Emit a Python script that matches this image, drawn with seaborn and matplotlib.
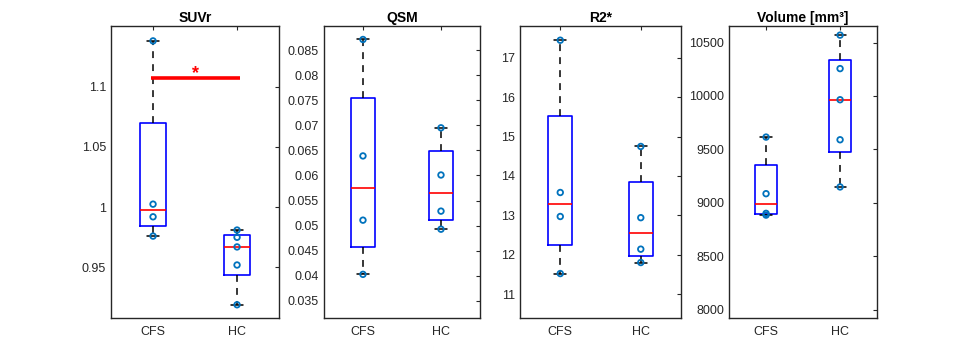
import numpy as np
import pandas as pd
import matplotlib
matplotlib.use("Agg")
import matplotlib.pyplot as plt
from matplotlib.ticker import FuncFormatter
import seaborn as sns

# group labels
groups = ["CFS", "HC"]

# values (one list per group and measure)
suvr_cfs = [1.138, 1.0025, 0.992, 0.976]
suvr_hc = [0.981, 0.975, 0.967, 0.952, 0.919]
qsm_cfs = [0.0871, 0.0639, 0.0511, 0.0403]
qsm_hc = [0.0695, 0.0601, 0.0529, 0.0493]
r2_cfs = [17.45, 13.58, 12.97, 11.52]
r2_hc = [14.75, 12.94, 12.14, 11.80]
vol_cfs = [9616, 9087, 8903, 8887]
vol_hc = [10569, 10256, 9965, 9591, 9150]

titles = ["SUVr", "QSM", "R2*", "Volume [mm\u00b3]"]
panel_data = [(suvr_cfs, suvr_hc), (qsm_cfs, qsm_hc), (r2_cfs, r2_hc), (vol_cfs, vol_hc)]
ylims = [(0.908, 1.150), (0.0316, 0.0897), (10.39, 17.80), (7925, 10650)]
yticks = [
    [0.95, 1.0, 1.05, 1.1],
    [0.035, 0.04, 0.045, 0.05, 0.055, 0.06, 0.065, 0.07, 0.075, 0.08, 0.085],
    [11, 12, 13, 14, 15, 16, 17],
    [8000, 8500, 9000, 9500, 10000, 10500],
]

# significance marker (SUVr panel only)
sig_panel = 0
sig_level = 1.107
sig_label = "*"

# axes placement in figure fractions [left, bottom, width, height]
axes_pos = [
    [0.1140, 0.1067, 0.1725, 0.819],
    [0.3326, 0.1067, 0.1602, 0.819],
    [0.5339, 0.1067, 0.1653, 0.819],
    [0.7485, 0.1067, 0.1520, 0.819],
]

sns.set_theme(style="white")
plt.rcParams["font.family"] = ["Liberation Sans", "DejaVu Sans"]

point_color = "#0072BD"
edge_color = "#262626"


def box_stats(vals):
    # MATLAB-style quartiles (hazen), whiskers to extreme points within 1.5 IQR
    v = np.sort(np.asarray(vals, dtype=float))
    q1, med, q3 = np.percentile(v, [25, 50, 75], method="hazen")
    iqr = q3 - q1
    lo = v[v >= q1 - 1.5 * iqr].min()
    hi = v[v <= q3 + 1.5 * iqr].max()
    return dict(med=med, q1=q1, q3=q3, whislo=lo, whishi=hi, fliers=[])


fig = plt.figure(figsize=(9.74, 3.56), dpi=100)

for i, (title, (cfs, hc)) in enumerate(zip(titles, panel_data)):
    ax = fig.add_axes(axes_pos[i])

    df = pd.DataFrame({
        "group": ["CFS"] * len(cfs) + ["HC"] * len(hc),
        "value": list(cfs) + list(hc),
    })
    df["pos"] = df["group"].map({g: k for k, g in enumerate(groups)})

    stats = [box_stats(df.loc[df["group"] == g, "value"]) for g in groups]
    ax.bxp(
        stats, positions=range(len(groups)), widths=0.3, capwidths=0.15,
        showfliers=False,
        boxprops=dict(color="blue", linewidth=1.2),
        medianprops=dict(color="red", linewidth=1.2),
        whiskerprops=dict(color="black", linewidth=1.1, linestyle=(0, (4.5, 4))),
        capprops=dict(color="black", linewidth=1.1),
    )

    sns.scatterplot(
        data=df, x="pos", y="value", ax=ax, marker="o", s=16,
        facecolor="none", edgecolor=point_color, linewidth=1.3, zorder=4,
        legend=False,
    )

    if i == sig_panel:
        ax.plot([-0.03, 1.035], [sig_level, sig_level], color="red",
                linewidth=2.6, solid_capstyle="butt", zorder=3)
        ax.text(0.5, sig_level + 0.0035, sig_label, color="red",
                fontsize=13, fontweight="bold", ha="center", va="center")

    ax.set_xlim(-0.5, 1.5)
    ax.set_ylim(*ylims[i])
    ax.set_xticks(range(len(groups)))
    ax.set_xticklabels(groups)
    ax.set_yticks(yticks[i])
    ax.yaxis.set_major_formatter(FuncFormatter(lambda v, p: f"{v:g}"))
    ax.set_xlabel("")
    ax.set_ylabel("")
    ax.set_title(title, fontsize=10, fontweight="bold", pad=3, color="black")

    ax.tick_params(direction="in", top=True, right=True, length=3, width=0.8,
                   colors=edge_color, labelsize=9)
    ax.tick_params(axis="x", pad=5.5)
    ax.tick_params(axis="y", pad=3.5)
    for sp in ax.spines.values():
        sp.set_visible(True)
        sp.set_color(edge_color)
        sp.set_linewidth(1.0)

fig.savefig("out.png", dpi=100, facecolor="white")
